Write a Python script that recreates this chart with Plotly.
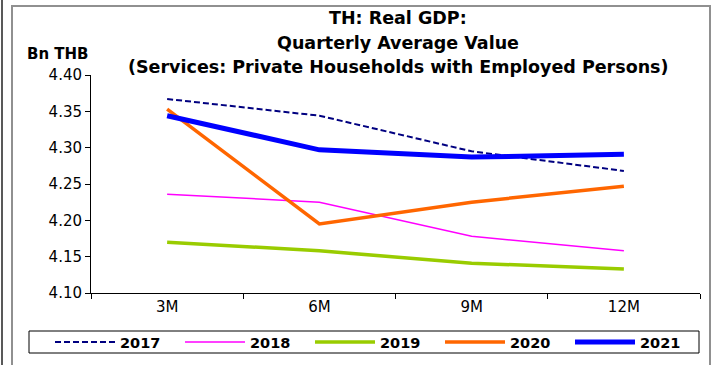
import plotly.graph_objects as go

categories = ["3M", "6M", "9M", "12M"]
y2017 = [4.367, 4.344, 4.295, 4.268]
y2018 = [4.236, 4.225, 4.178, 4.158]
y2019 = [4.170, 4.158, 4.141, 4.133]
y2020 = [4.353, 4.195, 4.225, 4.247]
y2021 = [4.344, 4.297, 4.287, 4.291]
y_ticks = [4.10, 4.15, 4.20, 4.25, 4.30, 4.35, 4.40]

W, H = 712, 365
L, R, T, B = 91, 12, 75, 72
pw, ph = W - L - R, H - T - B

def px(x):
    return (x - L) / pw

def py(y):
    return (H - B - y) / ph

series = [
    ("2017", y2017, dict(color="#000080", width=2, dash="6px,3px")),
    ("2018", y2018, dict(color="#FF00FF", width=1.5)),
    ("2019", y2019, dict(color="#99CC00", width=3.5)),
    ("2020", y2020, dict(color="#FF6600", width=3.5)),
    ("2021", y2021, dict(color="#0000FF", width=5)),
]

fig = go.Figure()
for name, vals, line in series:
    fig.add_trace(go.Scatter(x=categories, y=vals, mode="lines", name=name, line=line))

font = "DejaVu Sans, sans-serif"

fig.update_layout(
    width=W, height=H,
    margin=dict(l=L, r=R, t=T, b=B, autoexpand=False),
    paper_bgcolor="white", plot_bgcolor="white",
    font=dict(family=font, size=15, color="black"),
    showlegend=True,
    legend=dict(
        orientation="h", x=px(50), y=py(342), xanchor="left", yanchor="middle",
        font=dict(family=font, size=14.5, color="black", weight="bold"),
        itemwidth=60, entrywidth=55, entrywidthmode="pixels",
        bgcolor="rgba(0,0,0,0)", borderwidth=0,
        traceorder="normal",
    ),
    xaxis=dict(
        type="category", range=[-0.5, 3.5], showgrid=False,
        showline=True, linecolor="black", linewidth=1,
        ticks="outside", tickson="boundaries", ticklen=5, tickcolor="black",
        tickfont=dict(size=15), fixedrange=True,
    ),
    yaxis=dict(
        range=[4.10, 4.40], tickvals=y_ticks, tickformat=".2f", showgrid=False,
        showline=True, linecolor="black", linewidth=1,
        ticks="outside", ticklen=5, tickcolor="black",
        tickfont=dict(size=15), zeroline=False,
    ),
)

title_lines = [("TH: Real GDP:", 18), ("Quarterly Average Value", 43),
               ("(Services: Private Households with Employed Persons)", 67)]
for txt, yy in title_lines:
    fig.add_annotation(text="<b>" + txt + "</b>", x=px(398), y=py(yy), xref="paper", yref="paper",
                       showarrow=False, xanchor="center", yanchor="middle",
                       font=dict(family=font, size=17.5, color="black"))
fig.add_annotation(text="<b>Bn THB</b>", x=px(58), y=py(54), xref="paper", yref="paper",
                   showarrow=False, xanchor="center", yanchor="middle",
                   font=dict(family=font, size=15, color="black"))

# legend box
fig.add_shape(type="rect", xref="paper", yref="paper", x0=px(29), x1=px(699), y0=py(353), y1=py(331),
              line=dict(color="black", width=1), fillcolor="rgba(0,0,0,0)", layer="below")
# chart frame
fig.add_shape(type="rect", xref="paper", yref="paper", x0=px(12), x1=px(710), y0=py(366), y1=py(6),
              line=dict(color="#909090", width=2), fillcolor="rgba(0,0,0,0)", layer="below")
fig.add_shape(type="line", xref="paper", yref="paper", x0=px(2), x1=px(2), y0=py(366), y1=py(0),
              line=dict(color="#222222", width=1.5))

fig.write_html("out.html", config={"displayModeBar": False},
               post_script="document.body.style.margin='0px';document.body.style.padding='0px';")
